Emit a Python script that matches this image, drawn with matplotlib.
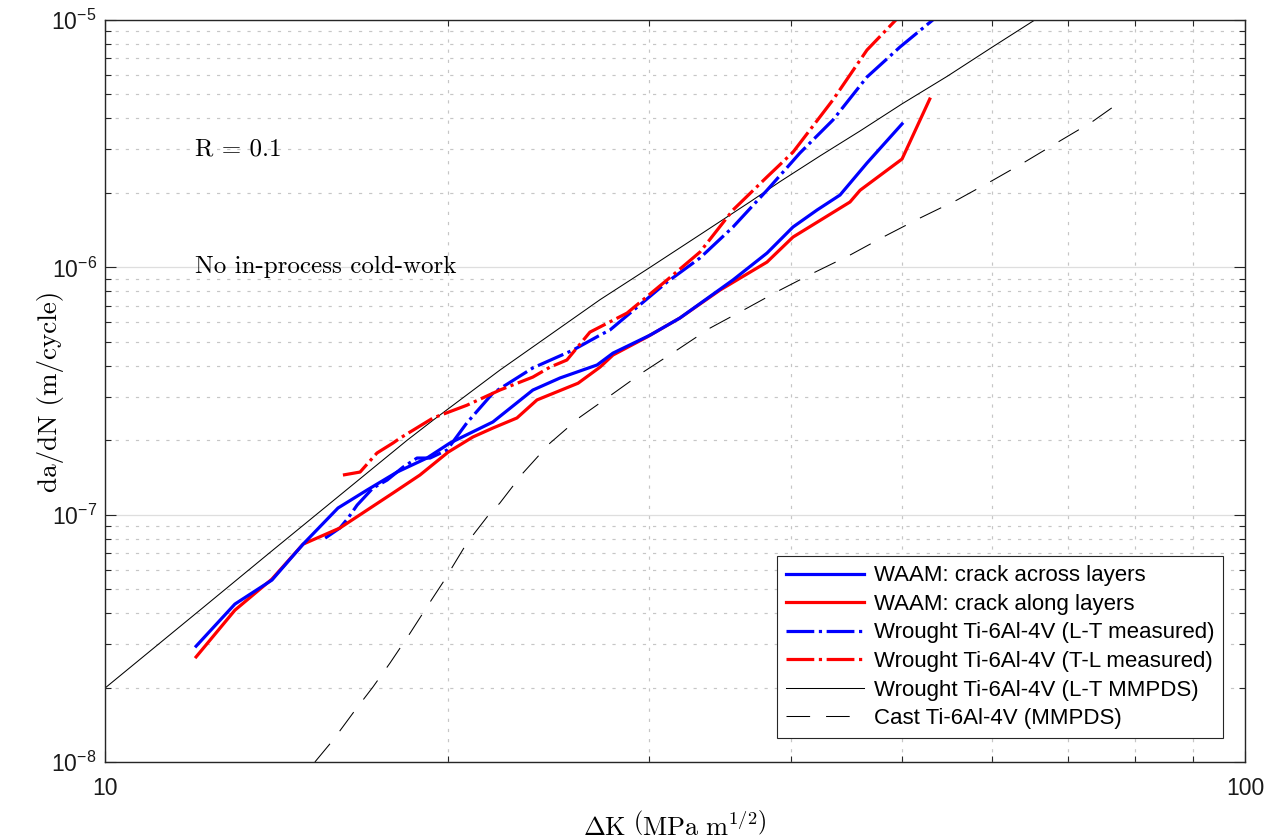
import matplotlib
matplotlib.use('Agg')
import matplotlib.pyplot as plt
from matplotlib.ticker import FixedLocator, FixedFormatter, NullFormatter

# ---------------- data ----------------
K_across = [12.02, 13.00, 14.01, 14.92, 16.01, 16.98, 18.04, 19.16, 20.07, 21.89, 23.73, 25.07,
            27.02, 27.90, 30.07, 31.94, 35.55, 38.08, 40.13, 42.13, 44.13, 46.6, 50.02]
da_across = [2.94e-8, 4.35e-8, 5.44e-8, 7.60e-8, 1.064e-7, 1.258e-7, 1.487e-7, 1.694e-7, 1.948e-7,
             2.37e-7, 3.19e-7, 3.57e-7, 4.03e-7, 4.50e-7, 5.32e-7, 6.24e-7, 8.89e-7, 1.142e-6,
             1.455e-6, 1.705e-6, 1.96e-6, 2.64e-6, 3.80e-6]

K_along = [12.02, 13.00, 14.01, 14.92, 16.07, 17.89, 18.89, 20.0, 21.02, 21.89, 22.98, 23.93, 26.0,
           27.18, 27.90, 29.89, 31.94, 34.63, 38.08, 40.13, 45.03, 45.96, 50.02, 52.9]
da_along = [2.66e-8, 4.11e-8, 5.49e-8, 7.60e-8, 8.83e-8, 1.223e-7, 1.446e-7, 1.79e-7, 2.06e-7,
            2.24e-7, 2.46e-7, 2.91e-7, 3.40e-7, 3.95e-7, 4.42e-7, 5.23e-7, 6.24e-7, 8.09e-7,
            1.050e-6, 1.325e-6, 1.837e-6, 2.05e-6, 2.74e-6, 4.79e-6]

K_LT = [15.6, 16.07, 16.34, 16.64, 17.18, 17.68, 18.26, 18.78, 19.28, 19.95, 20.77, 21.89, 23.73,
        25.74, 27.18, 27.73, 31.12, 33.26, 35.55, 38.08, 40.7, 43.5, 46.6, 49.82, 53.5]
da_LT = [8.04e-8, 8.83e-8, 9.69e-8, 1.093e-7, 1.281e-7, 1.38e-7, 1.557e-7, 1.694e-7, 1.694e-7,
         1.825e-7, 2.35e-7, 3.10e-7, 3.92e-7, 4.63e-7, 5.32e-7, 5.58e-7, 8.72e-7, 1.091e-6,
         1.455e-6, 2.05e-6, 2.90e-6, 3.94e-6, 5.88e-6, 7.78e-6, 1.02e-5]

K_TL = [16.17, 16.74, 17.32, 17.89, 18.15, 19.4, 20.77, 22.2, 23.73, 24.57, 25.42, 26.63, 28.7,
        31.12, 33.26, 35.55, 38.08, 40.13, 43.5, 46.6, 49.6]
da_TL = [1.446e-7, 1.487e-7, 1.775e-7, 1.948e-7, 2.04e-7, 2.46e-7, 2.77e-7, 3.19e-7, 3.60e-7,
         3.95e-7, 4.22e-7, 5.47e-7, 6.53e-7, 8.89e-7, 1.153e-6, 1.705e-6, 2.32e-6, 2.92e-6,
         4.75e-6, 7.56e-6, 1.02e-5]

K_mmpds = [10.0, 12.19, 14.0, 18.41, 19.4, 22.2, 27.18, 30.07, 33.26, 36.8, 39.09, 42.38, 45.96,
           50.02, 54.8, 60.1, 65.4]
da_mmpds = [1.99e-8, 4.21e-8, 7.12e-8, 2.0e-7, 2.41e-7, 3.84e-7, 7.40e-7, 1.0e-6, 1.355e-6,
            1.84e-6, 2.22e-6, 2.82e-6, 3.56e-6, 4.58e-6, 5.92e-6, 7.8e-6, 1.0e-5]

K_cast = [15.28, 15.85, 16.5, 17.18, 17.78, 18.52, 19.28, 19.8, 20.77, 21.63, 22.2, 23.26, 24.57,
          26.1, 27.18, 29.65, 31.75, 33.94, 36.58, 39.09, 41.8, 45.03, 48.14, 51.86, 55.89, 60.1,
          63.87, 68.55, 73.4, 76.4]
da_cast = [1.0e-8, 1.226e-8, 1.576e-8, 2.01e-8, 2.51e-8, 3.32e-8, 4.43e-8, 5.34e-8, 7.68e-8,
           9.78e-8, 1.114e-7, 1.473e-7, 1.948e-7, 2.48e-7, 2.83e-7, 3.77e-7, 4.63e-7, 5.68e-7,
           6.84e-7, 8.09e-7, 9.48e-7, 1.121e-6, 1.325e-6, 1.582e-6, 1.871e-6, 2.25e-6, 2.64e-6,
           3.21e-6, 3.87e-6, 4.41e-6]

labels = ['WAAM: crack across layers', 'WAAM: crack along layers',
          'Wrought Ti-6Al-4V (L-T measured)', 'Wrought Ti-6Al-4V (T-L measured)',
          'Wrought Ti-6Al-4V (L-T MMPDS)', 'Cast Ti-6Al-4V (MMPDS)']

x_ticks = [10, 100]
x_ticklabels = ['10', '100']
x_minor = [20, 30, 40, 50, 60, 70, 80, 90]
y_ticks = [1e-8, 1e-7, 1e-6, 1e-5]
y_ticklabels = [r'$10^{-8}$', r'$10^{-7}$', r'$10^{-6}$', r'$10^{-5}$']

# ---------------- style ----------------
plt.rcParams['mathtext.fontset'] = 'custom'
plt.rcParams['mathtext.rm'] = 'Liberation Sans'
plt.rcParams['mathtext.it'] = 'Liberation Sans:italic'
plt.rcParams['mathtext.bf'] = 'Liberation Sans:bold'
plt.rcParams['font.family'] = ['Liberation Sans', 'DejaVu Sans']
plt.rcParams['lines.scale_dashes'] = False

fig = plt.figure(figsize=(12.68, 8.39), dpi=100)
ax = fig.add_axes([105 / 1268, 77 / 839, 1140 / 1268, 742 / 839])
ax.set_xscale('log')
ax.set_yscale('log')

thick = 2.3
thin = 0.75
dashdot = (0, (20, 3.3, 2.3, 3.3))
dash = (0, (17, 11.5))

l5, = ax.plot(K_mmpds, da_mmpds, color='k', lw=thin, ls='-')
l6, = ax.plot(K_cast, da_cast, color='k', lw=thin, ls=dash)
l3, = ax.plot(K_LT, da_LT, color='#0000ff', lw=thick, ls=dashdot)
l4, = ax.plot(K_TL, da_TL, color='#ff0000', lw=thick, ls=dashdot)
l2, = ax.plot(K_along, da_along, color='#ff0000', lw=thick, ls='-')
l1, = ax.plot(K_across, da_across, color='#0000ff', lw=thick, ls='-')

ax.set_xlim(10, 100)
ax.set_ylim(1e-8, 1e-5)

ax.xaxis.set_major_locator(FixedLocator(x_ticks))
ax.xaxis.set_major_formatter(FixedFormatter(x_ticklabels))
ax.xaxis.set_minor_locator(FixedLocator(x_minor))
ax.xaxis.set_minor_formatter(NullFormatter())
ax.yaxis.set_major_locator(FixedLocator(y_ticks))
ax.yaxis.set_major_formatter(FixedFormatter(y_ticklabels))
ax.yaxis.set_minor_locator(FixedLocator([m * 10.0 ** e for e in (-8, -7, -6) for m in range(2, 10)]))
ax.yaxis.set_minor_formatter(NullFormatter())

ax.set_axisbelow(True)
ax.grid(which='major', color='#dedede', lw=0.9, ls='-')
ax.grid(which='minor', color='#c6c6c6', lw=0.85, ls=(0, (2.3, 5.0)))

ax.tick_params(which='both', direction='in', top=True, right=True, color='#262626',
               labelcolor='#1a1a1a', labelsize=16.5)
ax.tick_params(which='major', length=8, width=0.8)
ax.tick_params(which='minor', length=4.5, width=0.8)
ax.tick_params(axis='x', which='major', pad=11)
ax.tick_params(axis='y', which='major', pad=6)
for s in ax.spines.values():
    s.set_color('#262626')
    s.set_linewidth(1.0)

ax.set_xlabel(r'$\Delta\mathrm{K}\ \left(\mathrm{MPa\ m}^{1/2}\right)$', fontsize=19,
              math_fontfamily='cm')
ax.xaxis.label.set_va('center')
ax.xaxis.set_label_coords(0.5, -0.085)
ax.set_ylabel('da/dN (m/cycle)', family='cmr10', fontsize=19.5)
ax.yaxis.label.set_va('center')
ax.yaxis.set_label_coords(-0.048, 0.5)

ax.text(12.0, 3.0e-6, 'R = 0.1', family='cmr10', fontsize=18, va='center', ha='left')
ax.text(12.0, 1.0e-6, 'No in-process cold-work', family='cmr10', fontsize=18,
        va='center', ha='left')

leg = ax.legend([l1, l2, l3, l4, l5, l6], labels, loc='lower right',
                bbox_to_anchor=(0.9807, 0.0323), fontsize=16, frameon=True,
                fancybox=False, edgecolor='#262626', framealpha=1, handlelength=3.5,
                handletextpad=0.45, labelspacing=0.34, borderpad=0.4, borderaxespad=0)
leg.get_frame().set_linewidth(0.8)

fig.savefig('out.png', dpi=100)
